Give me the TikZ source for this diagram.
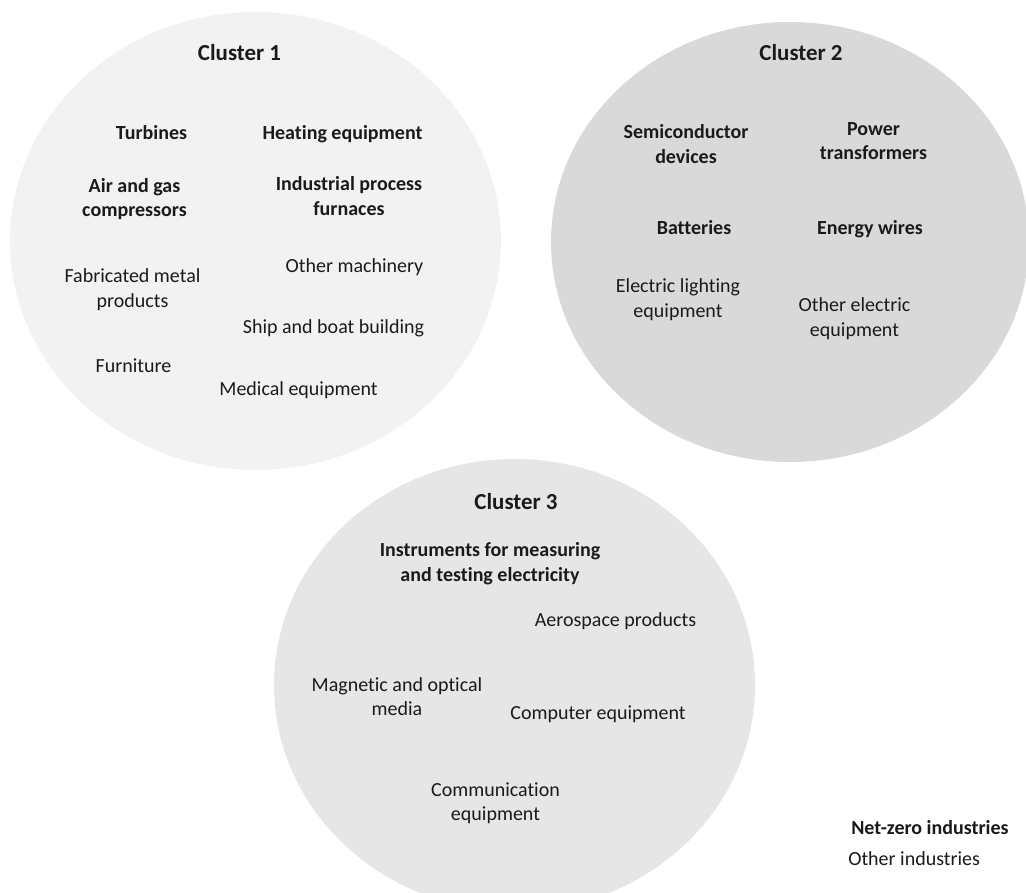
\documentclass[tikz,border=0pt]{standalone}
\usepackage{fontspec}
\setmainfont{Carlito}[Ligatures=NoCommon]
\definecolor{cA}{HTML}{F2F2F2}
\definecolor{cB}{HTML}{D9D9D9}
\definecolor{cC}{HTML}{E6E6E6}
\definecolor{txt}{HTML}{1A1A1A}
\begin{document}
\begin{tikzpicture}[x=0.75pt,y=-0.75pt,
  title/.style={font=\fontsize{17.2pt}{20pt}\selectfont\bfseries, text=txt, inner sep=0pt},
  nz/.style={font=\fontsize{15pt}{18.4pt}\selectfont\bfseries, text=txt, align=center, inner sep=0pt},
  oth/.style={font=\fontsize{15pt}{18.4pt}\selectfont, text=txt, align=center, inner sep=0pt}]
\useasboundingbox (0,0) rectangle (1026,893);
% clusters
\fill[cA] (255.5,241) ellipse [x radius=184.1pt, y radius=171.75pt];
\fill[cB] (790,242) ellipse [x radius=179.25pt, y radius=165pt];
\fill[cC] (514.5,685) ellipse [x radius=180.4pt, y radius=169.5pt];
% cluster 1
\node[title] (t1) at (239.5,53) {Cluster 1};
\node[nz] (turb) at (151.5,132.5) {Turbines};
\node[nz] (heat) at (342.5,134) {Heating equipment};
\node[nz] (air) at (134.5,199) {Air and gas\\compressors};
\node[nz] (ipf) at (349,196) {Industrial process\\furnaces};
\node[oth] (omach) at (354.5,267) {Other machinery};
\node[oth] (fmp) at (132.5,289.5) {Fabricated metal\\products};
\node[oth] (ship) at (333.5,328) {Ship and boat building};
\node[oth] (furn) at (133.5,365.5) {Furniture};
\node[oth] (med) at (298.5,390) {Medical equipment};
% cluster 2
\node[title] (t2) at (801,53) {Cluster 2};
\node[nz] (semi) at (686,144) {Semiconductor\\devices};
\node[nz] (ptr) at (873.5,141) {Power\\transformers};
\node[nz] (batt) at (694,227.5) {Batteries};
\node[nz] (ew) at (870,229) {Energy wires};
\node[oth] (elight) at (678,299.5) {Electric lighting\\equipment};
\node[oth] (oelec) at (854.5,318.5) {Other electric\\equipment};
% cluster 3
\node[title] (t3) at (516,501.5) {Cluster 3};
\node[nz] (instr) at (490,563.5) {Instruments for measuring\\and testing electricity};
\node[oth] (aero) at (615.5,621.5) {Aerospace products};
\node[oth] (magn) at (397,696.5) {Magnetic and optical\\media};
\node[oth] (comp) at (598,714) {Computer equipment};
\node[oth] (comm) at (495.5,803) {Communication\\equipment};
% legend
\node[nz, anchor=west] (lnz) at (851,828) {Net-zero industries};
\node[oth, anchor=west] (loth) at (848,858.5) {Other industries};
\end{tikzpicture}
\end{document}
